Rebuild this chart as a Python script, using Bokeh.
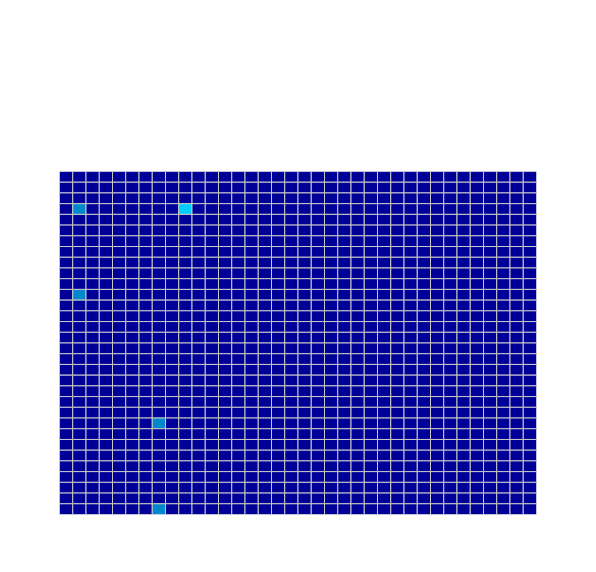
from bokeh.plotting import figure
from bokeh.models import ColumnDataSource, Range1d, LinearColorMapper
from bokeh.embed import file_html
from bokeh.resources import INLINE

n_cols = 36
n_rows = 32
# non-zero cells (column index, row index from top, value)
hot_cols = [1, 9, 1, 7, 7]
hot_rows = [3, 3, 11, 23, 31]
hot_vals = [1, 2, 1, 1, 1]
palette = ["#000099", "#0088cc", "#00ccff"]

hot = {(c, r): v for c, r, v in zip(hot_cols, hot_rows, hot_vals)}
xs, ys, vs = [], [], []
for r in range(n_rows):
    for c in range(n_cols):
        xs.append(c + 0.5)
        ys.append(n_rows - r - 0.5)
        vs.append(hot.get((c, r), 0))

src = ColumnDataSource(dict(x=xs, y=ys, v=vs))
mapper = LinearColorMapper(palette=palette, low=0, high=2)

p = figure(width=580, height=556, output_backend="svg", toolbar_location=None,
           x_range=Range1d(0, n_cols), y_range=Range1d(0, n_rows),
           min_border_left=59, min_border_right=44, min_border_top=171, min_border_bottom=42)
p.rect(x="x", y="y", width=1, height=1, source=src,
       fill_color={"field": "v", "transform": mapper},
       line_color="#c8c8c8", line_width=1)
p.axis.visible = False
p.grid.visible = False
p.outline_line_color = None
p.background_fill_color = "white"
p.border_fill_color = "white"

open("out.html", "w").write(file_html(p, INLINE))
